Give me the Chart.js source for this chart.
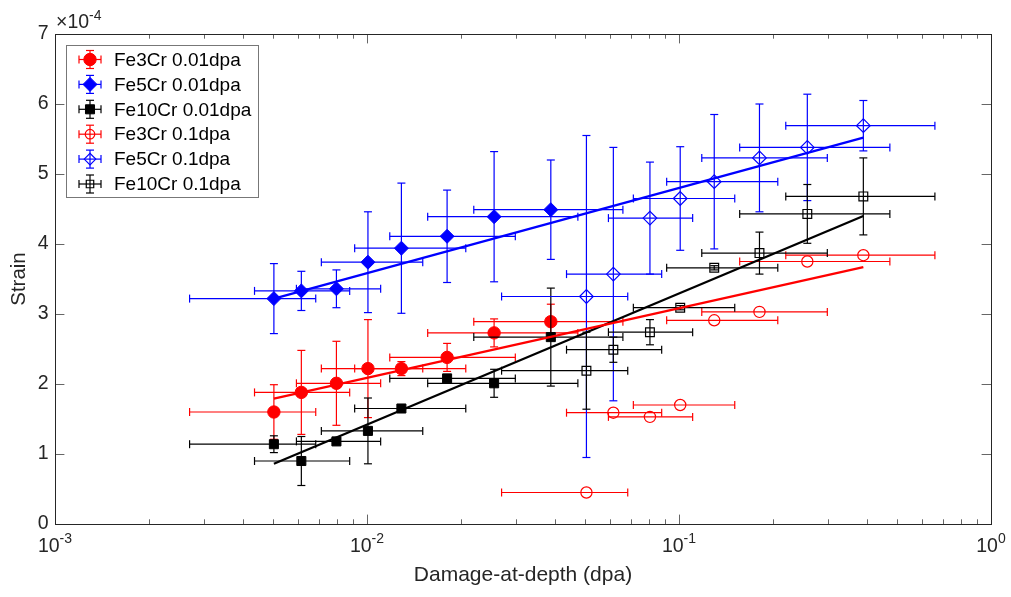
<!DOCTYPE html>
<html><head><meta charset="utf-8">
<script src="https://cdn.jsdelivr.net/npm/chart.js@4.4.1/dist/chart.umd.min.js"></script>
<style>html,body{margin:0;padding:0;background:#fff;overflow:hidden}#wrap{width:1011px;height:597px}</style>
</head><body><div id="wrap"><canvas id="c" width="1011" height="597"></canvas></div>
<script>
// ---------- data (strain values in units of 1e-4) ----------
const xDecades = [0.001, 0.01, 0.1, 1];
const xDecadeExponents = ['-3', '-2', '-1', '0'];
const yTicks = [0, 1, 2, 3, 4, 5, 6, 7];
const yMultiplierExp = '-4';
const xTitle = 'Damage-at-depth (dpa)';
const yTitle = 'Strain';
const seriesLabels = ['Fe3Cr 0.01dpa', 'Fe5Cr 0.01dpa', 'Fe10Cr 0.01dpa', 'Fe3Cr 0.1dpa', 'Fe5Cr 0.1dpa', 'Fe10Cr 0.1dpa'];

// damage-at-depth, 0.01 dpa samples and their x-error limits
const dose001 = [0.00503, 0.00616, 0.00798, 0.01007, 0.01289, 0.01806, 0.02555, 0.03883];
const dose001Lo = [0.00270, 0.00436, 0.00594, 0.00714, 0.00913, 0.01183, 0.01565, 0.02199];
const dose001Hi = [0.00685, 0.00880, 0.01106, 0.01509, 0.02073, 0.02988, 0.04741, 0.06610];
// damage-at-depth, 0.1 dpa samples and their x-error limits
const dose01 = [0.0505, 0.0616, 0.0807, 0.1009, 0.1297, 0.1811, 0.2578, 0.3898];
const dose01Lo = [0.0270, 0.0436, 0.0594, 0.0714, 0.0913, 0.1183, 0.1565, 0.2199];
const dose01Hi = [0.0685, 0.0880, 0.1106, 0.1509, 0.2073, 0.2988, 0.4741, 0.6610];

const fe3Cr001 = [1.60, 1.88, 2.01, 2.22, 2.22, 2.38, 2.73, 2.89];
const fe3Cr001Err = [0.39, 0.60, 0.60, 0.70, 0.10, 0.20, 0.20, 0.25];
const fe5Cr001 = [3.22, 3.33, 3.36, 3.74, 3.94, 4.11, 4.39, 4.49];
const fe5Cr001Err = [0.50, 0.28, 0.27, 0.72, 0.93, 0.66, 0.93, 0.71];
const fe10Cr001 = [1.14, 0.90, 1.18, 1.33, 1.65, 2.08, 2.01, 2.67];
const fe10Cr001Err = [0.12, 0.35, 0.03, 0.47, 0.03, 0.05, 0.20, 0.70];
const fe3Cr01 = [0.45, 1.59, 1.53, 1.70, 2.91, 3.03, 3.75, 3.84];
const fe3Cr01Err = [0, 0, 0, 0, 0, 0, 0, 0];
const fe5Cr01 = [3.25, 3.57, 4.37, 4.65, 4.89, 5.23, 5.38, 5.69];
const fe5Cr01Err = [2.30, 1.81, 0.80, 0.74, 0.96, 0.77, 0.76, 0.36];
const fe10Cr01 = [2.19, 2.49, 2.74, 3.09, 3.66, 3.87, 4.43, 4.68];
const fe10Cr01Err = [0.55, 0.18, 0.18, 0.03, 0.03, 0.30, 0.42, 0.55];

// log-linear fit lines (endpoints)
const fitX = [0.00503, 0.3898];
const fitFe3Cr = [1.79, 3.67];
const fitFe5Cr = [3.22, 5.52];
const fitFe10Cr = [0.86, 4.40];

// ---------- styling ----------
const FONT = "'Liberation Sans', Arial, Helvetica, sans-serif";
const TXT = '#262626';
const RED = '#ff0000', BLUE = '#0000ff', BLACK = '#000000';

function pts(xs, ys) { return xs.map((x, i) => ({ x: x, y: ys[i] })); }

function markerDataset(i, xs, ys, err, lo, hi, color, style, radius, filled, order) {
  return {
    label: seriesLabels[i], data: pts(xs, ys), errY: err, xLo: lo, xHi: hi,
    showLine: false, pointStyle: style, pointRadius: radius,
    pointBackgroundColor: filled ? color : 'rgba(0,0,0,0)', pointBorderColor: color,
    pointBorderWidth: filled ? 1 : 1.2, borderColor: color, backgroundColor: color,
    filled: filled, order: order
  };
}
function fitDataset(ys, color) {
  return { label: '', isFit: true, data: pts(fitX, ys), showLine: true, pointRadius: 0,
    borderColor: color, borderWidth: 2.3, fill: false, order: 0 };
}

const datasets = [
  markerDataset(0, dose001, fe3Cr001, fe3Cr001Err, dose001Lo, dose001Hi, RED, 'circle', 6.2, true, 9),
  markerDataset(1, dose001, fe5Cr001, fe5Cr001Err, dose001Lo, dose001Hi, BLUE, 'rectRot', 7, true, 8),
  markerDataset(2, dose001, fe10Cr001, fe10Cr001Err, dose001Lo, dose001Hi, BLACK, 'rect', 6.4, true, 7),
  markerDataset(3, dose01, fe3Cr01, fe3Cr01Err, dose01Lo, dose01Hi, RED, 'circle', 5.6, false, 6),
  markerDataset(4, dose01, fe5Cr01, fe5Cr01Err, dose01Lo, dose01Hi, BLUE, 'rectRot', 6.8, false, 5),
  markerDataset(5, dose01, fe10Cr01, fe10Cr01Err, dose01Lo, dose01Hi, BLACK, 'rect', 6.2, false, 4),
  fitDataset(fitFe3Cr, RED),
  fitDataset(fitFe5Cr, BLUE),
  fitDataset(fitFe10Cr, BLACK)
];

function seg(ctx, x1, y1, x2, y2) { ctx.beginPath(); ctx.moveTo(x1, y1); ctx.lineTo(x2, y2); ctx.stroke(); }

function drawMarker(ctx, style, x, y, r, color, filled) {
  ctx.save();
  ctx.beginPath();
  if (style === 'circle') ctx.arc(x, y, r, 0, Math.PI * 2);
  else if (style === 'rectRot') { ctx.moveTo(x - r, y); ctx.lineTo(x, y - r); ctx.lineTo(x + r, y); ctx.lineTo(x, y + r); ctx.closePath(); }
  else { const s = r * Math.SQRT1_2; ctx.rect(x - s, y - s, 2 * s, 2 * s); }
  ctx.strokeStyle = color; ctx.lineWidth = filled ? 1 : 1.2;
  if (filled) { ctx.fillStyle = color; ctx.fill(); }
  ctx.stroke();
  ctx.restore();
}

const CAP = 4;
const errorBars = {
  id: 'errorBars',
  beforeDatasetDraw(chart, args) {
    const ds = chart.data.datasets[args.index];
    if (!ds.errY) return;
    const xs = chart.scales.x, ys = chart.scales.y, ctx = chart.ctx;
    ctx.save();
    ctx.strokeStyle = ds.borderColor; ctx.lineWidth = 1.2;
    ds.data.forEach((p, i) => {
      const px = xs.getPixelForValue(p.x), py = ys.getPixelForValue(p.y);
      const e = ds.errY[i];
      if (e > 0) {
        const t = ys.getPixelForValue(p.y + e), b = ys.getPixelForValue(p.y - e);
        seg(ctx, px, t, px, b); seg(ctx, px - CAP, t, px + CAP, t); seg(ctx, px - CAP, b, px + CAP, b);
      }
      const l = xs.getPixelForValue(ds.xLo[i]), r = xs.getPixelForValue(ds.xHi[i]);
      seg(ctx, l, py, r, py); seg(ctx, l, py - CAP, l, py + CAP); seg(ctx, r, py - CAP, r, py + CAP);
    });
    ctx.restore();
  }
};

const axesAndLegend = {
  id: 'axesAndLegend',
  afterDraw(chart) {
    const ctx = chart.ctx, a = chart.chartArea, xs = chart.scales.x, ys = chart.scales.y;
    ctx.save();
    // ticks
    ctx.strokeStyle = '#666'; ctx.lineWidth = 1;
    const MAJ = 9.4, MIN = 4.7;
    yTicks.forEach(v => {
      const y = Math.round(ys.getPixelForValue(v)) + 0.5;
      seg(ctx, a.left, y, a.left + MAJ, y); seg(ctx, a.right, y, a.right - MAJ, y);
    });
    xDecades.forEach((d, k) => {
      const x = Math.round(xs.getPixelForValue(d)) + 0.5;
      seg(ctx, x, a.bottom, x, a.bottom - MAJ); seg(ctx, x, a.top, x, a.top + MAJ);
      if (k < xDecades.length - 1) {
        for (let m = 2; m <= 9; m++) {
          const xm = Math.round(xs.getPixelForValue(d * m)) + 0.5;
          seg(ctx, xm, a.bottom, xm, a.bottom - MIN); seg(ctx, xm, a.top, xm, a.top + MIN);
        }
      }
    });
    // frame
    ctx.strokeStyle = TXT; ctx.lineWidth = 1;
    ctx.strokeRect(Math.round(a.left) + 0.5, Math.round(a.top) + 0.5, Math.round(a.right - a.left), Math.round(a.bottom - a.top));
    // x tick labels 10^n
    ctx.fillStyle = TXT; ctx.textBaseline = 'alphabetic';
    const big = '19.5px ' + FONT, small = '14px ' + FONT;
    xDecades.forEach((d, k) => {
      const x = xs.getPixelForValue(d);
      ctx.font = big; const w1 = ctx.measureText('10').width;
      ctx.font = small; const w2 = ctx.measureText(xDecadeExponents[k]).width;
      const x0 = x - (w1 + w2) / 2;
      ctx.font = big; ctx.textAlign = 'left'; ctx.fillText('10', x0, 552);
      ctx.font = small; ctx.fillText(xDecadeExponents[k], x0 + w1, 543);
    });
    // y multiplier
    ctx.font = big; ctx.textAlign = 'left';
    ctx.fillText('\u00d710', 56, 28);
    const wm = ctx.measureText('\u00d710').width;
    ctx.font = small; ctx.fillText(yMultiplierExp, 56 + wm, 20);

    // legend
    const L = 66, T = 45, W = 192, H = 152;
    ctx.fillStyle = '#fff'; ctx.fillRect(L, T, W, H);
    ctx.strokeStyle = '#777'; ctx.lineWidth = 1; ctx.strokeRect(L + 0.5, T + 0.5, W, H);
    const rows = chart.data.datasets.filter(ds => !ds.isFit);
    rows.forEach((ds, i) => {
      const cy = 59.5 + i * 24.9, cx = 90;
      ctx.strokeStyle = ds.borderColor; ctx.lineWidth = 1.2;
      seg(ctx, cx - 11, cy, cx + 11, cy); seg(ctx, cx - 11, cy - CAP, cx - 11, cy + CAP); seg(ctx, cx + 11, cy - CAP, cx + 11, cy + CAP);
      seg(ctx, cx, cy - 9, cx, cy + 9); seg(ctx, cx - CAP, cy - 9, cx + CAP, cy - 9); seg(ctx, cx - CAP, cy + 9, cx + CAP, cy + 9);
      drawMarker(ctx, ds.pointStyle, cx, cy, ds.pointRadius * (ds.filled ? 1 : 0.85), ds.borderColor, ds.filled);
      ctx.fillStyle = '#000'; ctx.font = '19px ' + FONT; ctx.textAlign = 'left'; ctx.textBaseline = 'middle';
      ctx.fillText(ds.label, 114, cy + 1);
    });
    ctx.restore();
  }
};

Chart.defaults.font.family = FONT;
new Chart(document.getElementById('c'), {
  type: 'scatter',
  data: { datasets: datasets },
  options: {
    responsive: false, animation: false, events: [], devicePixelRatio: 1,
    layout: { padding: { left: 0, right: 20, top: 34, bottom: 0 } },
    plugins: { legend: { display: false }, tooltip: { enabled: false } },
    scales: {
      x: {
        type: 'logarithmic', min: 0.001, max: 1,
        grid: { display: false, drawTicks: false }, border: { display: false },
        ticks: { display: false },
        title: { display: true, text: xTitle, color: TXT, font: { size: 21, lineHeight: 1 }, padding: { top: 0, bottom: 11 } },
        afterFit(s) { s.height = 73; }
      },
      y: {
        type: 'linear', min: 0, max: 7,
        grid: { display: false, drawTicks: false }, border: { display: false },
        ticks: { stepSize: 1, color: TXT, font: { size: 19.5 }, padding: 6.5, callback: v => String(v) },
        title: { display: true, text: yTitle, color: TXT, font: { size: 20.5, lineHeight: 1 }, padding: { top: 9, bottom: 0 } },
        afterFit(s) { s.width = 55; }
      }
    }
  },
  plugins: [errorBars, axesAndLegend]
});
</script></body></html>
